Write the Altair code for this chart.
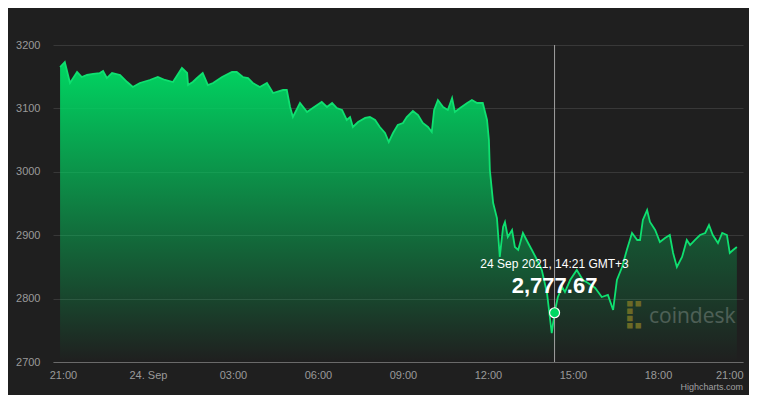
import altair as alt
import pandas as pd

# minutes after 23 Sep 2021 21:00 (GMT+3) and ETH price
minutes = [-6, 4, 15, 30, 40, 51, 64, 78, 85, 93, 104, 121, 136, 148, 163, 184, 201, 216, 233,
           252, 263, 265, 275, 284, 296, 307, 318, 337, 358, 368, 381, 392, 402, 417, 432, 445,
           466, 474, 481, 487, 502, 517, 529, 548, 559, 570, 580, 591, 601, 608, 614, 625, 640,
           650, 661, 671, 682, 690, 699, 709, 720, 728, 741, 752, 762, 773, 781, 786, 794, 805,
           815, 824, 830, 841, 856, 866, 877, 889, 898, 902, 904, 911, 919, 925, 932, 936, 942,
           951, 957, 964, 974, 985, 993, 1004, 1014, 1025, 1031, 1035, 1041, 1048, 1057, 1063,
           1074, 1088, 1101, 1112, 1127, 1141, 1154, 1165, 1173, 1184, 1194, 1205, 1216, 1222,
           1228, 1237, 1243, 1254, 1264, 1275, 1285, 1292, 1300, 1311, 1321, 1328, 1338, 1349,
           1360, 1368, 1376, 1387, 1396, 1406, 1412, 1419, 1427]
prices = [3165.3, 3173.2, 3140.1, 3157.4, 3149.5, 3152.7, 3154.3, 3155.8, 3159.0, 3147.9, 3155.8,
          3152.7, 3141.6, 3133.8, 3140.1, 3144.8, 3149.5, 3144.8, 3141.6, 3163.7, 3155.8, 3136.9,
          3141.6, 3147.9, 3155.8, 3136.9, 3140.1, 3149.5, 3157.4, 3157.4, 3149.5, 3147.9, 3140.1,
          3133.8, 3140.1, 3124.3, 3129.0, 3129.0, 3102.2, 3086.4, 3108.5, 3094.3, 3100.6, 3110.1,
          3102.2, 3108.5, 3100.6, 3097.5, 3081.7, 3086.4, 3070.7, 3078.5, 3084.9, 3086.4, 3081.7,
          3070.7, 3061.2, 3047.0, 3061.2, 3073.8, 3077.0, 3086.4, 3095.9, 3089.6, 3077.0, 3070.7,
          3062.8, 3097.5, 3113.2, 3102.2, 3097.5, 3116.4, 3094.3, 3100.6, 3108.5, 3113.2, 3108.5,
          3108.5, 3081.7, 3050.2, 3002.8, 2950.8, 2927.1, 2865.6, 2912.9, 2920.8, 2897.2, 2908.2,
          2881.4, 2876.7, 2903.5, 2887.7, 2876.7, 2860.9, 2845.1, 2808.8, 2771.0, 2745.7, 2777.67,
          2802.5, 2818.3, 2810.4, 2829.3, 2845.1, 2829.3, 2824.6, 2816.7, 2802.5, 2805.7, 2782.0,
          2829.3, 2849.8, 2876.7, 2903.5, 2892.4, 2892.4, 2924.0, 2939.7, 2920.8, 2908.2, 2889.3,
          2895.6, 2900.3, 2871.9, 2849.8, 2865.6, 2892.4, 2884.5, 2892.4, 2900.3, 2903.5, 2916.1,
          2900.3, 2887.7, 2903.5, 2900.3, 2871.9, 2876.7, 2881.4]

hover_minute = 1041
hover_price = 2777.67
hover_date_text = "24 Sep 2021, 14:21 GMT+3"
hover_value_text = "2,777.67"

x_tick_minutes = [0, 180, 360, 540, 720, 900, 1080, 1260, 1440]
x_tick_labels = ["21:00", "24. Sep", "03:00", "06:00", "09:00", "12:00", "15:00", "18:00", "21:00"]
y_ticks = [2700, 2800, 2900, 3000, 3100, 3200]
x_domain = [-21, 1440]
y_domain = [2700, 3200]

BG = "#1f1f1f"
GREEN = "0,214,98"
LINE = "#0fe070"
FONT = "Liberation Sans"

df = pd.DataFrame({"t": minutes, "p": prices})
left = df[df.t <= hover_minute]
right = df[df.t >= hover_minute]
hover = pd.DataFrame({"t": [hover_minute], "p": [hover_price],
                      "d": [hover_date_text], "v": [hover_value_text]})

label_arr = "[" + ",".join("'" + s + "'" for s in x_tick_labels) + "]"
x_enc = alt.X("t:Q", scale=alt.Scale(domain=x_domain, nice=False, zero=False),
              axis=alt.Axis(values=x_tick_minutes, labelExpr=label_arr + "[round(datum.value/180)]",
                            grid=False, ticks=False, domainColor="#6a6a6a", labelFlush=True,
                            labelColor="#9a9a9a", labelFontSize=11, labelFont=FONT,
                            labelPadding=7, title=None))
y_enc = alt.Y("p:Q", scale=alt.Scale(domain=y_domain, nice=False, zero=False),
              axis=alt.Axis(values=y_ticks, format="d", domain=False, ticks=False, grid=True,
                            gridColor="#383838", labelColor="#9a9a9a", labelFontSize=11,
                            labelFont=FONT, labelPadding=13, title=None))
y_base = alt.Y2(datum=y_domain[0])

frac = (right.p.max() - y_domain[0]) / (left.p.max() - y_domain[0])
dim = 0.7

area_left = alt.Chart(left).mark_area(
    color=alt.Gradient(gradient="linear", x1=0, x2=0, y1=0, y2=1,
                       stops=[alt.GradientStop(color=f"rgba({GREEN},1)", offset=0),
                              alt.GradientStop(color=f"rgba({GREEN},0)", offset=1)])
).encode(x=x_enc, y=y_enc, y2=y_base)

area_right = alt.Chart(right).mark_area(
    color=alt.Gradient(gradient="linear", x1=0, x2=0, y1=0, y2=1,
                       stops=[alt.GradientStop(color=f"rgba({GREEN},{frac*dim:.3f})", offset=0),
                              alt.GradientStop(color=f"rgba({GREEN},0)", offset=1)])
).encode(x="t:Q", y="p:Q", y2=y_base)

line = alt.Chart(df).mark_line(color=LINE, strokeWidth=1.8).encode(x="t:Q", y="p:Q")

rule = alt.Chart(hover).mark_rule(color="#a0a0a0", strokeWidth=1).encode(x="t:Q")

dot = alt.Chart(hover).mark_circle(size=100, color="#00d862", stroke="white",
                                   strokeWidth=1.2, opacity=1).encode(x="t:Q", y="p:Q")

date_txt = alt.Chart(hover).mark_text(color="white", fontSize=12, font=FONT, dy=-49,
                                      baseline="middle").encode(x="t:Q", y="p:Q", text="d:N")
val_txt = alt.Chart(hover).mark_text(color="white", fontSize=22, font=FONT, fontWeight="bold",
                                     dy=-20, baseline="alphabetic").encode(x="t:Q", y="p:Q", text="v:N")

icon = alt.Chart(hover).mark_text(text="\u28cf", font="DejaVu Sans", fontSize=28, color="#6b6a26",
                                  fontWeight="bold", align="center", baseline="middle").encode(
    x=alt.value(581), y=alt.value(270))
brand = alt.Chart(hover).mark_text(text="coindesk", font="Open Sans", fontSize=21,
                                   color="#ffffff", opacity=0.22, align="left",
                                   baseline="alphabetic").encode(x=alt.value(596), y=alt.value(278))
credit = alt.Chart(hover).mark_text(text="Highcharts.com", font=FONT, fontSize=9, color="#a0a0a0",
                                    align="right", baseline="alphabetic").encode(
    x=alt.value(690), y=alt.value(345))

chart = alt.layer(area_left, area_right, icon, brand, line, rule, dot, date_txt, val_txt,
                  credit).properties(
    width=690, height=317, background=BG,
    padding={"left": 45, "top": 37, "right": 6, "bottom": 33},
    autosize=alt.AutoSizeParams(type="none")
).configure_view(stroke=None)

chart.save("out.html", embed_options={"renderer": "svg", "actions": False})
